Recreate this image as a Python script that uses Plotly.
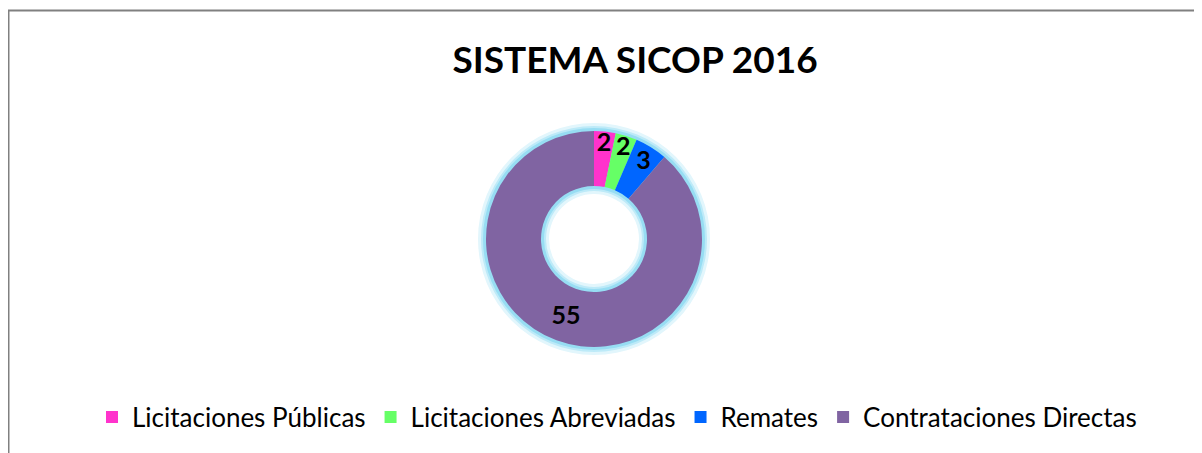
import plotly.graph_objects as go

W, H = 1202, 453

categories = ["Licitaciones Públicas", "Licitaciones Abreviadas", "Remates", "Contrataciones Directas"]
values = [2, 2, 3, 55]
colors = ["#ff33cc", "#66ff66", "#0066ff", "#8064a2"]
title_text = "SISTEMA SICOP 2016"

FONT = "Lato"
OFF = 8  # page body margin offset

def px_x(v):
    return (v - OFF) / W

def px_y(v):
    return 1 - (v - OFF) / H

cx, cy, r, rh = 594, 239, 108, 53

fig = go.Figure()

# glow layers
for extra, col in [(8, "#e2f6fc"), (5, "#bdeaf8"), (3, "#97ddf3")]:
    ro, ri = r + extra, rh - extra
    fig.add_trace(go.Pie(
        values=[1], labels=["glow"], marker=dict(colors=[col]),
        hole=ri / ro, textinfo="none", hoverinfo="skip", showlegend=False, sort=False,
        domain=dict(x=[px_x(cx - ro), px_x(cx + ro)], y=[px_y(cy + ro), px_y(cy - ro)]),
    ))

fig.add_trace(go.Pie(
    labels=categories, values=values,
    marker=dict(colors=colors),
    hole=rh / r, sort=False, direction="clockwise", rotation=0,
    textinfo="value", textposition="inside", insidetextorientation="horizontal",
    textfont=dict(family=FONT, size=25, color="black", weight="bold"),
    domain=dict(x=[px_x(cx - r), px_x(cx + r)], y=[px_y(cy + r), px_y(cy - r)]),
))

fig.update_layout(
    width=W, height=H,
    margin=dict(l=0, r=0, t=0, b=0),
    paper_bgcolor="white", plot_bgcolor="white",
    uniformtext=dict(minsize=25, mode="show"),
    title=dict(text=title_text, x=px_x(635), xanchor="center", y=px_y(60), yanchor="middle",
               font=dict(family=FONT, size=37, color="black", weight="bold")),
    legend=dict(orientation="h", x=px_x(617), xanchor="center", y=px_y(417), yanchor="middle",
                font=dict(family=FONT, size=26, color="black"), traceorder="normal",
                itemwidth=30),
    shapes=[
        dict(type="line", xref="paper", yref="paper", x0=px_x(8), x1=1.0, y0=px_y(10.5), y1=px_y(10.5),
             line=dict(color="#808080", width=2)),
        dict(type="line", xref="paper", yref="paper", x0=px_x(8.5), x1=px_x(8.5), y0=0, y1=px_y(10.5),
             line=dict(color="#808080", width=2)),
    ],
)

fig.write_html("out.html")
